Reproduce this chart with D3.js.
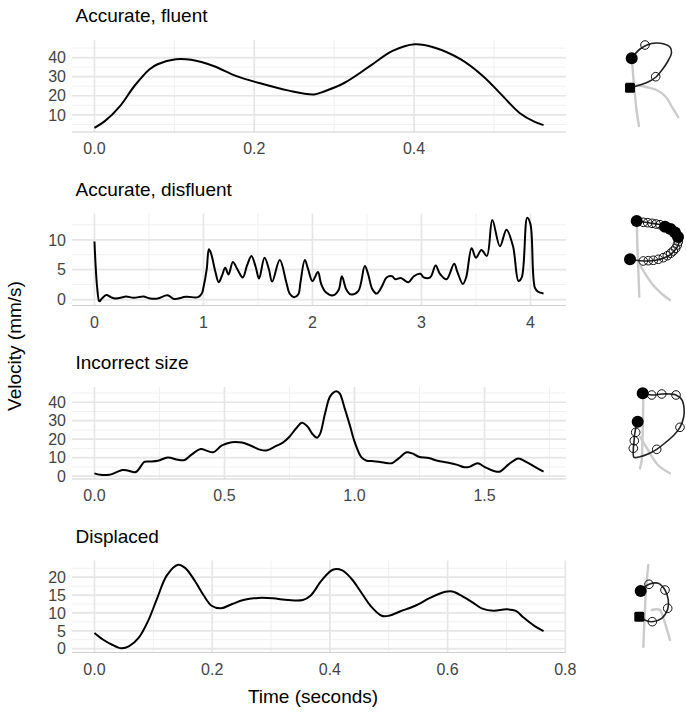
<!DOCTYPE html>
<html>
<head>
<meta charset="utf-8">
<script src="https://cdn.jsdelivr.net/npm/d3@7"></script>
<style>
  body { margin: 0; background: #fff; }
  svg { font-family: "Liberation Sans", Arial, sans-serif; }
</style>
</head>
<body>
<svg id="chart" width="686" height="713"></svg>
<script>
// ---- values ----
const panelTitles = ["Accurate, fluent", "Accurate, disfluent", "Incorrect size", "Displaced"];

const fluentT = [0, 0.013, 0.032, 0.05, 0.069, 0.079, 0.102, 0.121, 0.149, 0.177, 0.205, 0.242, 0.275, 0.289,
  0.313, 0.345, 0.373, 0.401, 0.425, 0.458, 0.486, 0.509, 0.532, 0.551, 0.562];
const fluentV = [3.2, 6.7, 14.6, 25.1, 33.9, 36.5, 39.1, 38.8, 35.6, 30.4, 26.8, 22.8, 20.7, 22.5,
  26.8, 35.6, 43.5, 47, 45.3, 39.2, 30.4, 20.7, 11, 6.3, 4.6];

const disfluentT = [0, 0.025, 0.045, 0.07, 0.11, 0.15, 0.19, 0.24, 0.29, 0.36, 0.45, 0.5, 0.58, 0.67, 0.73, 0.84,
  0.95, 0.985, 1.0, 1.03, 1.05, 1.07, 1.11, 1.14, 1.17, 1.2, 1.23, 1.27, 1.31, 1.36, 1.4, 1.44, 1.48, 1.51,
  1.56, 1.6, 1.63, 1.7, 1.76, 1.79, 1.83, 1.87, 1.89, 1.93, 1.96, 2.0, 2.05, 2.08, 2.12, 2.19, 2.24, 2.27,
  2.31, 2.35, 2.42, 2.48, 2.51, 2.55, 2.59, 2.64, 2.68, 2.73, 2.76, 2.81, 2.88, 2.93, 2.99, 3.02, 3.08,
  3.13, 3.17, 3.23, 3.3, 3.33, 3.38, 3.41, 3.46, 3.5, 3.55, 3.6, 3.65, 3.72, 3.78, 3.84, 3.89, 3.92, 3.97,
  4.0, 4.04, 4.07, 4.12];
const disfluentV = [9.7, 2.0, -0.3, 0.2, 0.74, 0.4, 0.17, 0.3, 0.5, 0.3, 0.5, 0.23, 0.17, 0.7, 0.1, 0.46,
  0.4, 1.0, 2.0, 5.1, 8.4, 7.7, 4.6, 2.9, 4.0, 5.3, 4.2, 6.3, 5.1, 3.7, 5.7, 7.3, 5.4, 3.5,
  7.0, 5.1, 3.0, 6.6, 2.9, 1.0, 0.4, 0.86, 2.9, 6.6, 5.1, 3.1, 4.6, 2.6, 1.26, 0.7, 1.6, 3.9,
  1.7, 0.86, 1.4, 5.6, 4.3, 1.7, 1.0, 2.3, 3.7, 3.9, 3.4, 3.6, 2.9, 3.9, 4.3, 3.7, 3.7,
  5.7, 4.3, 3.4, 6.0, 4.6, 2.6, 3.7, 8.6, 7.0, 8.3, 7.3, 13.3, 8.9, 11.7, 8.9, 3.1, 3.7, 13.7,
  12.6, 2.0, 1.3, 1.0];

const sizeT = [0, 0.023, 0.056, 0.108, 0.127, 0.159, 0.192, 0.211, 0.244, 0.282, 0.321, 0.347, 0.373, 0.409,
  0.431, 0.457, 0.49, 0.528, 0.567, 0.6, 0.639, 0.665, 0.697, 0.723, 0.749, 0.775, 0.798, 0.82, 0.839,
  0.856, 0.868, 0.887, 0.907, 0.93, 0.943, 0.962, 0.982, 1.001, 1.027, 1.047, 1.073, 1.111, 1.144, 1.17,
  1.2, 1.222, 1.247, 1.286, 1.319, 1.357, 1.396, 1.422, 1.442, 1.474, 1.5, 1.536, 1.558, 1.594, 1.63,
  1.658, 1.694, 1.727];
const sizeV = [1.5, 0.7, 0.7, 3.3, 3.1, 2.2, 7.7, 7.9, 8.3, 10.1, 8.8, 8.7, 11.6, 14.7,
  13.8, 12.9, 16.6, 18.4, 18.2, 16.6, 14.2, 14.0, 16.2, 18.0, 21.2, 25.8, 28.9, 26.7, 22.7,
  20.8, 23.0, 34.1, 43.3, 46.0, 44.8, 36.8, 27.6, 18.4, 10.1, 8.3, 8.1, 7.4, 7.0, 9.6,
  12.9, 12.3, 10.5, 9.8, 8.3, 7.4, 6.1, 4.8, 5.0, 7.0, 5.0, 2.8, 2.4, 6.5, 9.6,
  7.9, 5.0, 2.4];

const displacedT = [0, 0.015, 0.03, 0.046, 0.059, 0.075, 0.091, 0.107, 0.123, 0.142, 0.154, 0.17, 0.186,
  0.199, 0.215, 0.234, 0.253, 0.278, 0.303, 0.329, 0.354, 0.367, 0.386, 0.405, 0.421, 0.437, 0.453,
  0.469, 0.488, 0.5, 0.519, 0.545, 0.57, 0.596, 0.608, 0.624, 0.643, 0.659, 0.678, 0.7, 0.716, 0.729,
  0.748, 0.763];
const displacedV = [4.4, 2.5, 1.1, 0.1, 0.7, 3.0, 7.7, 14.3, 20.5, 23.5, 22.6, 19.1, 14.8,
  12.0, 11.3, 12.5, 13.6, 14.2, 14.1, 13.6, 13.6, 14.8, 19.1, 22.1, 21.9, 19.5, 15.8,
  12.0, 9.2, 9.2, 10.4, 12.0, 14.2, 15.9, 16.0, 14.8, 12.9, 11.2, 10.6, 11.0, 10.6, 8.7,
  6.3, 4.9];

// tick values (major / minor) per panel
const xMajor = [[0, 0.2, 0.4], [0, 1, 2, 3, 4], [0, 0.5, 1.0, 1.5], [0, 0.2, 0.4, 0.6, 0.8]];
const xMinor = [[0.1, 0.3, 0.5], [0.5, 1.5, 2.5, 3.5], [0.25, 0.75, 1.25, 1.75], [0.1, 0.3, 0.5, 0.7]];
const yMajor = [[10, 20, 30, 40], [0, 5, 10], [0, 10, 20, 30, 40], [0, 5, 10, 15, 20]];
const yMinor = [[5, 15, 25, 35, 45], [2.5, 7.5, 12.5], [5, 15, 25, 35, 45], [2.5, 7.5, 12.5, 17.5, 22.5]];
const xFormats = [".1f", "d", ".1f", ".1f"];

// pen-trace glyphs (local pixel units inside a 96 x 130 box)
const glyphGuides = [
  [[[42, 40], [44, 65], [46.5, 90], [49, 106]],
   [[46.7, 65], [56, 67], [66.7, 70], [76, 77], [82, 87], [88.3, 97.3]]],
  [[[46.7, 31], [47.5, 60], [48.5, 85], [49.3, 106.7]],
   [[50, 75], [56, 85], [63, 95], [72, 104], [80, 110]]],
  [[[53.3, 26.7], [53, 50], [52.3, 75], [51.7, 90], [50, 98.3]],
   [[50, 66.7], [58, 80], [68, 95], [80, 103.3]]],
  [[[58.3, 15], [56, 40], [54.7, 65], [53.3, 96.7]],
   [[61.7, 60], [66, 59.3], [70, 60], [74, 70], [80, 90]]]
];
const glyphTraces = [
  [[40, 67.7], [50, 65], [60, 61], [66, 57], [72, 50], [78, 41], [81.5, 33], [80, 27], [74, 24], [66, 23],
   [57, 25], [50, 29], [45, 34], [41.7, 38.3]],
  [[46.7, 31], [53.3, 32], [60, 33], [68.3, 34.3], [76, 36.7], [82.7, 40], [87.3, 45], [89.3, 50], [88.3, 55],
   [85, 60], [80, 65], [73.3, 68.3], [66.7, 70], [58.3, 71], [50, 70.7], [40, 69.3]],
  [[52.7, 23.3], [61.7, 25], [71.7, 24], [80, 24], [86, 25], [92, 30], [94, 38], [93.7, 47], [90, 57.3],
   [84, 65], [75, 73], [66.7, 79.3], [58, 84], [50, 86.7], [44, 87.3], [43.3, 80], [44, 72], [44.7, 64],
   [46, 57], [47.7, 51.7]],
  [[49.3, 66.7], [56.7, 70.7], [62.3, 71.7], [71.7, 68.3], [77.7, 59.3], [78.3, 50], [75, 40], [68.3, 33.3],
   [59, 34.3], [53.3, 38.3], [50.7, 41]]
];
const glyphOpen = [
  [[55, 25], [65.7, 56.7]],
  [[53.3, 32.3], [57.7, 32.7], [62, 33.3], [66, 34], [70, 34.7], [88.3, 51.7], [87.3, 55], [85.7, 58.3],
   [83.3, 61], [80.7, 63.3], [77.3, 65.7], [73.3, 67.7], [68.3, 69.3], [63.3, 70.3], [58.3, 70.7], [53.3, 71]],
  [[61.7, 25], [71.7, 24], [86, 25], [90, 57.3], [66.7, 79.3], [43.3, 78.3], [44.3, 70.7], [45.7, 62.3]],
  [[59, 34.3], [75, 40], [77.7, 58.3], [62.3, 71.7]]
];
const glyphDots = [
  [[41.7, 38.3]],
  [[46.7, 31], [40, 69.3], [75, 36.7], [80.5, 39], [85, 42.5], [88, 47]],
  [[52.7, 23.3], [47.7, 51.7]],
  [[50.7, 41]]
];
const glyphSquares = [[[40, 67.7]], [], [], [[49.3, 66.7]]];

// ---- layout ----
const svg = d3.select("#chart");
const left = 72, right = 566;
const panelTop = [40, 213.5, 387, 560.5];
const panelH = 92;
const tickColor = "#444";

const series = [[fluentT, fluentV], [disfluentT, disfluentV], [sizeT, sizeV], [displacedT, displacedV]];

// ggplot style 5% padding on a continuous range
function expand(values) {
  let lo = d3.min(values), hi = d3.max(values), pad = (hi - lo) * 0.05;
  return [lo - pad, hi + pad];
}

series.forEach(function (s, i) {
  let data = s[0].map((t, j) => ({t: t, v: s[1][j]}));
  let top = panelTop[i], bottom = top + panelH;

  let x = d3.scaleLinear().domain(expand(s[0])).range([left, right]);
  let y = d3.scaleLinear().domain(expand(s[1])).range([bottom, top]);
  let inX = d => d >= x.domain()[0] && d <= x.domain()[1];
  let inY = d => d >= y.domain()[0] && d <= y.domain()[1];

  let g = svg.append("g");

  // grid, minor then major
  g.selectAll(".vminor").data(xMinor[i].filter(inX)).enter().append("line")
    .attr("x1", d => x(d)).attr("x2", d => x(d)).attr("y1", top).attr("y2", bottom)
    .attr("stroke", "#f0f0f0").attr("stroke-width", 1);
  g.selectAll(".hminor").data(yMinor[i].filter(inY)).enter().append("line")
    .attr("x1", left).attr("x2", right).attr("y1", d => y(d)).attr("y2", d => y(d))
    .attr("stroke", "#f0f0f0").attr("stroke-width", 1);
  g.selectAll(".vmajor").data(xMajor[i].filter(inX)).enter().append("line")
    .attr("x1", d => x(d)).attr("x2", d => x(d)).attr("y1", top).attr("y2", bottom)
    .attr("stroke", "#e6e6e6").attr("stroke-width", 1.7);
  g.selectAll(".hmajor").data(yMajor[i].filter(inY)).enter().append("line")
    .attr("x1", left).attr("x2", right).attr("y1", d => y(d)).attr("y2", d => y(d))
    .attr("stroke", "#e6e6e6").attr("stroke-width", 1.7);

  // bottom axis line
  g.append("line").attr("x1", left).attr("x2", right).attr("y1", bottom).attr("y2", bottom)
    .attr("stroke", "#cfcfcf").attr("stroke-width", 1);

  // tick labels
  let fmt = d3.format(xFormats[i]);
  g.selectAll(".xlab").data(xMajor[i].filter(inX)).enter().append("text")
    .attr("x", d => x(d)).attr("y", bottom + 22)
    .attr("text-anchor", "middle").attr("font-size", 16).attr("fill", tickColor)
    .text(d => fmt(d));
  g.selectAll(".ylab").data(yMajor[i].filter(inY)).enter().append("text")
    .attr("x", left - 6).attr("y", d => y(d)).attr("dy", "0.36em")
    .attr("text-anchor", "end").attr("font-size", 16).attr("fill", tickColor)
    .text(d => d);

  // panel title
  g.append("text").attr("x", 75.5).attr("y", top - 18)
    .attr("font-size", 19).attr("fill", "#000").text(panelTitles[i]);

  // velocity trace
  let line = d3.line().x(d => x(d.t)).y(d => y(d.v)).curve(d3.curveCatmullRom.alpha(0.5));
  g.append("path").datum(data).attr("d", line)
    .attr("fill", "none").attr("stroke", "#000").attr("stroke-width", 2)
    .attr("stroke-linejoin", "round");
});

// axis titles
svg.append("text").attr("transform", "translate(21,346) rotate(-90)")
  .attr("text-anchor", "middle").attr("font-size", 19).text("Velocity (mm/s)");
svg.append("text").attr("x", 313).attr("y", 703)
  .attr("text-anchor", "middle").attr("font-size", 19).text("Time (seconds)");

// ---- glyphs on the right ----
const glyphTop = [20, 190, 370, 550];
const gx = d3.scaleLinear().domain([0, 96]).range([590, 686]);

glyphTraces.forEach(function (trace, i) {
  let gy = d3.scaleLinear().domain([0, 130]).range([glyphTop[i], glyphTop[i] + 130]);
  let pen = d3.line().x(d => gx(d[0])).y(d => gy(d[1])).curve(d3.curveCatmullRom.alpha(0.5));
  let g = svg.append("g");

  g.selectAll(".guide").data(glyphGuides[i]).enter().append("path")
    .attr("d", pen).attr("fill", "none").attr("stroke", "#cbcbcb")
    .attr("stroke-width", 2.4).attr("stroke-linecap", "round");

  g.append("path").datum(trace).attr("d", pen)
    .attr("fill", "none").attr("stroke", "#222").attr("stroke-width", 1.6);

  g.selectAll(".open").data(glyphOpen[i]).enter().append("circle")
    .attr("cx", d => gx(d[0])).attr("cy", d => gy(d[1])).attr("r", 4.3)
    .attr("fill", "none").attr("stroke", "#111").attr("stroke-width", 1);

  g.selectAll(".dot").data(glyphDots[i]).enter().append("circle")
    .attr("cx", d => gx(d[0])).attr("cy", d => gy(d[1])).attr("r", 6)
    .attr("fill", "#000");

  g.selectAll(".sq").data(glyphSquares[i]).enter().append("rect")
    .attr("x", d => gx(d[0]) - 5).attr("y", d => gy(d[1]) - 5)
    .attr("width", 10).attr("height", 10).attr("rx", 1.5).attr("fill", "#000");
});
</script>
</body>
</html>
